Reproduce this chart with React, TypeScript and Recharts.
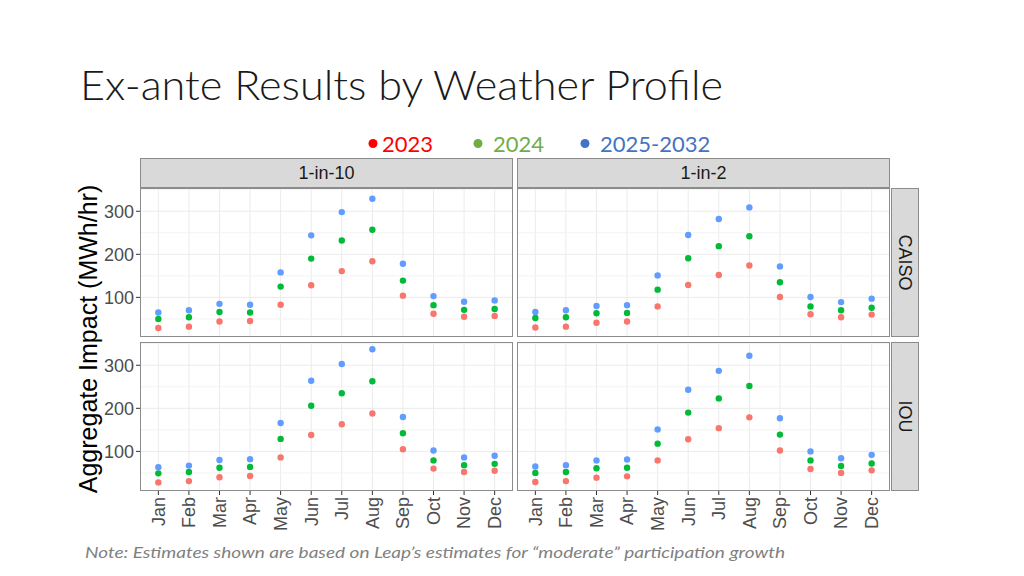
import { ScatterChart, Scatter, XAxis, YAxis, CartesianGrid, ReferenceLine } from 'recharts';

const months = ['Jan', 'Feb', 'Mar', 'Apr', 'May', 'Jun', 'Jul', 'Aug', 'Sep', 'Oct', 'Nov', 'Dec'];
const monthTicks = [1, 2, 3, 4, 5, 6, 7, 8, 9, 10, 11, 12];
const yTicks = [100, 200, 300];
const yMinor = [50, 150, 250, 350];

const caiso10_2023 = [29, 32, 44, 45, 83, 128, 161, 184, 104, 62, 55, 57];
const caiso10_2024 = [50, 54, 66, 65, 125, 190, 232, 257, 139, 82, 71, 73];
const caiso10_2025 = [65, 70, 85, 83, 158, 244, 298, 329, 178, 103, 90, 93];

const caiso2_2023 = [30, 32, 41, 44, 79, 129, 152, 174, 101, 61, 54, 60];
const caiso2_2024 = [52, 54, 63, 64, 118, 191, 219, 242, 135, 79, 70, 76];
const caiso2_2025 = [66, 70, 80, 82, 151, 245, 282, 309, 172, 101, 89, 97];

const iou10_2023 = [28, 31, 40, 43, 86, 138, 163, 188, 105, 60, 52, 55];
const iou10_2024 = [49, 52, 62, 64, 129, 206, 235, 263, 142, 79, 68, 71];
const iou10_2025 = [63, 67, 80, 82, 166, 264, 303, 337, 180, 102, 86, 90];

const iou2_2023 = [29, 31, 39, 42, 79, 128, 154, 179, 102, 59, 50, 56];
const iou2_2024 = [50, 52, 61, 62, 118, 190, 223, 252, 139, 79, 66, 72];
const iou2_2025 = [65, 68, 79, 81, 151, 243, 287, 322, 177, 100, 84, 92];

const COL_2023 = '#F8766D';
const COL_2024 = '#00BA38';
const COL_2025 = '#619CFF';

const GG_FONT = '"Liberation Sans", Arial, sans-serif';
const SLIDE_FONT = 'Lato, "Open Sans", sans-serif';

// panel geometry
const PW = 373;
const PH = 149;
const YW = 60;
const XH = 60;
const LEFT_X = [140, 517];
const TOP_Y = [188, 342];

const toPoints = (vals: number[]) => vals.map((v, i) => ({ x: i + 1, y: v }));

const dot = (color: string) => (props: any) => (
  <circle cx={props.cx} cy={props.cy} r={3.2} fill={color} />
);

const MonthTick = (props: any) => {
  const { x, y, payload } = props;
  return (
    <g transform={`translate(${x},${y})`}>
      <text transform="rotate(-90)" textAnchor="end" dy="0.35em" fill="#4d4d4d" fontSize={18} fontFamily={GG_FONT}>
        {months[payload.value - 1]}
      </text>
    </g>
  );
};

interface PanelProps {
  s2023: number[];
  s2024: number[];
  s2025: number[];
  showY: boolean;
  showX: boolean;
  col: number;
  row: number;
}

function Panel({ s2023, s2024, s2025, showY, showX, col, row }: PanelProps) {
  const w = PW + (showY ? YW : 0);
  const h = PH + (showX ? XH : 0);
  const left = LEFT_X[col] - (showY ? YW : 0);
  return (
    <div style={{ position: 'absolute', left, top: TOP_Y[row] }}>
      <ScatterChart width={w} height={h} margin={{ top: 0, right: 0, bottom: 0, left: 0 }}>
        <CartesianGrid stroke="#ebebeb" horizontalValues={yTicks} verticalValues={monthTicks} />
        {yMinor.map(v => (
          <ReferenceLine key={v} y={v} stroke="#f3f3f3" />
        ))}
        <XAxis
          type="number"
          dataKey="x"
          domain={[0.4, 12.6]}
          allowDataOverflow
          ticks={monthTicks}
          interval={0}
          hide={!showX}
          height={XH}
          axisLine={false}
          tickLine={{ stroke: '#333333' }}
          tickSize={4}
          tick={<MonthTick />}
        />
        <YAxis
          type="number"
          dataKey="y"
          domain={[8, 354]}
          allowDataOverflow
          ticks={yTicks}
          hide={!showY}
          width={YW}
          axisLine={false}
          tickLine={{ stroke: '#333333' }}
          tickSize={4}
          tick={{ fill: '#4d4d4d', fontSize: 18, fontFamily: GG_FONT }}
        />
        <Scatter data={toPoints(s2023)} fill={COL_2023} shape={dot(COL_2023)} isAnimationActive={false} />
        <Scatter data={toPoints(s2024)} fill={COL_2024} shape={dot(COL_2024)} isAnimationActive={false} />
        <Scatter data={toPoints(s2025)} fill={COL_2025} shape={dot(COL_2025)} isAnimationActive={false} />
      </ScatterChart>
    </div>
  );
}

export default function App() {
  return (
    <div style={{ position: 'absolute', left: 0, top: 0, width: 1024, height: 576, background: '#ffffff', overflow: 'hidden' }}>
      <Panel s2023={caiso10_2023} s2024={caiso10_2024} s2025={caiso10_2025} showY showX={false} col={0} row={0} />
      <Panel s2023={caiso2_2023} s2024={caiso2_2024} s2025={caiso2_2025} showY={false} showX={false} col={1} row={0} />
      <Panel s2023={iou10_2023} s2024={iou10_2024} s2025={iou10_2025} showY showX col={0} row={1} />
      <Panel s2023={iou2_2023} s2024={iou2_2024} s2025={iou2_2025} showY={false} showX col={1} row={1} />

      <svg width={1024} height={576} style={{ position: 'absolute', left: 0, top: 0, pointerEvents: 'none' }}>
        <text x={80} y={100} fontSize={42} fontWeight={300} fontFamily={SLIDE_FONT} fill="#1a1a1a" textLength={643} lengthAdjust="spacingAndGlyphs">
          Ex-ante Results by Weather Profile
        </text>

        {/* legend */}
        <circle cx={373} cy={143.5} r={4.5} fill="#ff0000" />
        <text x={382} y={152} fontSize={22} fontFamily={SLIDE_FONT} fill="#ff0000">2023</text>
        <circle cx={478} cy={143.5} r={4.5} fill="#70ad47" />
        <text x={493} y={152} fontSize={22} fontFamily={SLIDE_FONT} fill="#70ad47">2024</text>
        <circle cx={585} cy={143.5} r={4.5} fill="#4472c4" />
        <text x={600} y={152} fontSize={22} fontFamily={SLIDE_FONT} fill="#4472c4">2025-2032</text>

        {/* strips */}
        <rect x={140.5} y={158.5} width={PW - 1} height={29} fill="#d9d9d9" stroke="#8c8c8c" />
        <text x={140 + PW / 2} y={179} textAnchor="middle" fontSize={18} fontFamily={GG_FONT} fill="#1a1a1a">1-in-10</text>
        <rect x={517.5} y={158.5} width={PW - 1} height={29} fill="#d9d9d9" stroke="#8c8c8c" />
        <text x={517 + PW / 2} y={179} textAnchor="middle" fontSize={18} fontFamily={GG_FONT} fill="#1a1a1a">1-in-2</text>
        <rect x={891.5} y={188.5} width={27} height={PH - 1} fill="#d9d9d9" stroke="#8c8c8c" />
        <text transform={`translate(898.5,${188 + PH / 2}) rotate(90)`} textAnchor="middle" fontSize={18} fontFamily={GG_FONT} fill="#1a1a1a">CAISO</text>
        <rect x={891.5} y={342.5} width={27} height={PH - 1} fill="#d9d9d9" stroke="#8c8c8c" />
        <text transform={`translate(898.5,${342 + PH / 2}) rotate(90)`} textAnchor="middle" fontSize={18} fontFamily={GG_FONT} fill="#1a1a1a">IOU</text>

        {/* panel borders */}
        {TOP_Y.map(ty =>
          LEFT_X.map(lx => (
            <rect key={`${lx}-${ty}`} x={lx + 0.5} y={ty + 0.5} width={PW - 1} height={PH - 1} fill="none" stroke="#8c8c8c" />
          ))
        )}

        <text transform="translate(97,339) rotate(-90)" textAnchor="middle" fontSize={25} fontFamily={GG_FONT} fill="#000000">
          Aggregate Impact (MWh/hr)
        </text>

        <text x={85} y={558} fontSize={16} fontStyle="italic" fontFamily={SLIDE_FONT} fill="#808080" textLength={700} lengthAdjust="spacingAndGlyphs">
          Note: Estimates shown are based on Leap’s estimates for “moderate” participation growth
        </text>
      </svg>
    </div>
  );
}
